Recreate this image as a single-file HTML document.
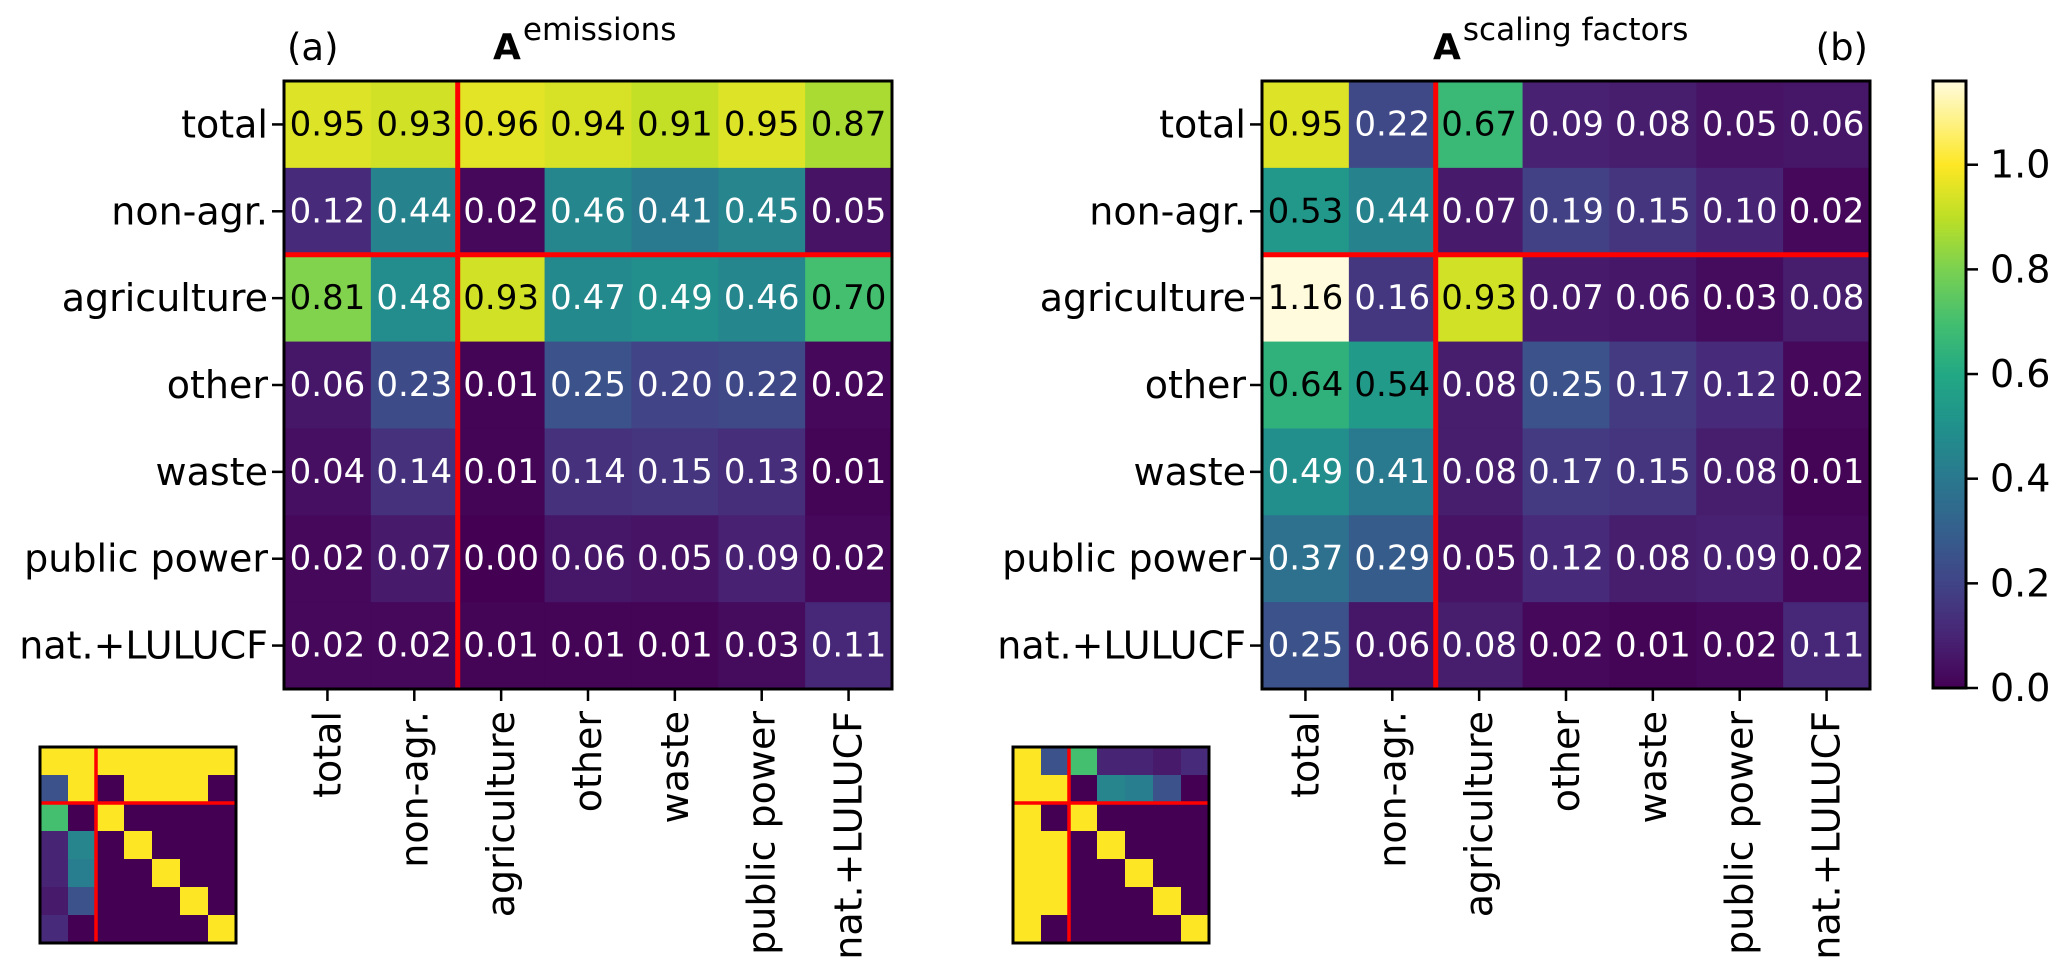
<!DOCTYPE html>
<html><head><meta charset="utf-8">
<style>
html,body{margin:0;padding:0;background:#fff;}
svg{display:block;font-family:"DejaVu Sans","Liberation Sans",sans-serif;}
</style></head>
<body>
<svg id="fig" width="2067" height="974" viewBox="0 0 2067 974" xmlns="http://www.w3.org/2000/svg">
<rect x="0" y="0" width="2067" height="974" fill="#fff"/>
<text x="287" y="60" font-size="37">(a)</text>
<text x="493" y="59" font-size="36"><tspan font-weight="bold">A</tspan><tspan font-size="31" dy="-19" dx="2">emissions</tspan></text>
<text x="1868" y="60" font-size="37" text-anchor="end">(b)</text>
<text x="1433" y="59" font-size="36"><tspan font-weight="bold">A</tspan><tspan font-size="31" dy="-19" dx="2">scaling factors</tspan></text>
<g id="layer"></g>
</svg>
<script>
const categories = ["total","non-agr.","agriculture","other","waste","public power","nat.+LULUCF"];
const emissions = [
 [0.95,0.93,0.96,0.94,0.91,0.95,0.87],
 [0.12,0.44,0.02,0.46,0.41,0.45,0.05],
 [0.81,0.48,0.93,0.47,0.49,0.46,0.70],
 [0.06,0.23,0.01,0.25,0.20,0.22,0.02],
 [0.04,0.14,0.01,0.14,0.15,0.13,0.01],
 [0.02,0.07,0.00,0.06,0.05,0.09,0.02],
 [0.02,0.02,0.01,0.01,0.01,0.03,0.11]
];
const scalingFactors = [
 [0.95,0.22,0.67,0.09,0.08,0.05,0.06],
 [0.53,0.44,0.07,0.19,0.15,0.10,0.02],
 [1.16,0.16,0.93,0.07,0.06,0.03,0.08],
 [0.64,0.54,0.08,0.25,0.17,0.12,0.02],
 [0.49,0.41,0.08,0.17,0.15,0.08,0.01],
 [0.37,0.29,0.05,0.12,0.08,0.09,0.02],
 [0.25,0.06,0.08,0.02,0.01,0.02,0.11]
];
const insetA = [
 [1,1,1,1,1,1,1],
 [0.25,1,0,1,1,1,0],
 [0.7,0,1,0,0,0,0],
 [0.1,0.45,0,1,0,0,0],
 [0.1,0.42,0,0,1,0,0],
 [0.07,0.25,0,0,0,1,0],
 [0.12,0,0,0,0,0,1]
];
const insetB = [
 [1,0.25,0.7,0.1,0.1,0.07,0.12],
 [1,1,0,0.45,0.42,0.25,0],
 [1,0,1,0,0,0,0],
 [1,1,0,1,0,0,0],
 [1,1,0,0,1,0,0],
 [1,1,0,0,0,1,0],
 [1,0,0,0,0,0,1]
];
const cbarTicks = [0.0,0.2,0.4,0.6,0.8,1.0];
const cbarMax = 1.16;

const VIR = ["#440154","#482475","#414487","#355f8d","#2a788e","#21918c","#22a884","#44bf70","#7ad151","#bddf26","#fde725"];
function hex(h){return [parseInt(h.substr(1,2),16),parseInt(h.substr(3,2),16),parseInt(h.substr(5,2),16)];}
function mix(a,b,t){return a.map((v,i)=>Math.round(v+(b[i]-v)*t));}
function color(v){
  let c;
  if(v>=1){const t=Math.min(1,(v-1)/(cbarMax-1));c=mix(hex("#fde725"),hex("#fffbdc"),t);}
  else{v=Math.max(0,v);const p=v*10;const i=Math.min(9,Math.floor(p));c=mix(hex(VIR[i]),hex(VIR[i+1]),p-i);}
  return "rgb("+c.join(",")+")";
}
const NS="http://www.w3.org/2000/svg";
const layer=document.getElementById("layer");
function el(tag,attrs,parent){const e=document.createElementNS(NS,tag);for(const k in attrs)e.setAttribute(k,attrs[k]);(parent||layer).appendChild(e);return e;}

function heatmap(x0,y0,size,data,prefix){
  const n=categories.length, cs=size/n;
  const g=el("g",{});
  
  
  const xs=i=>x0+i*cs, ys=j=>y0+j*cs;
  data.forEach((row,j)=>row.forEach((v,i)=>{
    const r=el("rect",{x:xs(i),y:ys(j),width:cs+0.5,height:cs+0.5,fill:color(v)},g);
    
    
    const t=el("text",{x:xs(i)+cs/2,y:ys(j)+cs/2,"font-size":34,"text-anchor":"middle","dominant-baseline":"central",fill:v>0.5?"#000":"#fff"},g);
    t.textContent=v.toFixed(2);
    
    
  }));
  el("line",{x1:xs(2),y1:y0,x2:xs(2),y2:y0+size,stroke:"#ff0000","stroke-width":5},g);
  el("line",{x1:x0,y1:ys(2),x2:x0+size,y2:ys(2),stroke:"#ff0000","stroke-width":5},g);
  el("rect",{x:x0,y:y0,width:size,height:size,fill:"none",stroke:"#000","stroke-width":3},g);
  categories.forEach((c,j)=>{
    const yy=ys(j)+cs/2;
    el("line",{x1:x0-12,y1:yy,x2:x0,y2:yy,stroke:"#000","stroke-width":2.5},g);
    const t=el("text",{x:x0-16,y:yy,"font-size":38,"text-anchor":"end","dominant-baseline":"central"},g);
    t.textContent=c;
    
    
  });
  categories.forEach((c,i)=>{
    const cx=xs(i)+cs/2;
    el("line",{x1:cx,y1:y0+size,x2:cx,y2:y0+size+12,stroke:"#000","stroke-width":2.5},g);
    const t=el("text",{x:0,y:0,"font-size":38,"text-anchor":"end","dominant-baseline":"central",transform:"translate("+cx+","+(y0+size+22)+") rotate(-90)"},g);
    t.textContent=c;
    
    
  });
}
function inset(x0,y0,size,data,prefix){
  const n=data.length, cs=size/n;
  const g=el("g",{});
  
  
  data.forEach((row,j)=>row.forEach((v,i)=>{
    const r=el("rect",{x:x0+i*cs,y:y0+j*cs,width:cs+0.5,height:cs+0.5,fill:color(v)},g);
    
    
  }));
  el("line",{x1:x0+2*cs,y1:y0,x2:x0+2*cs,y2:y0+size,stroke:"#ff0000","stroke-width":3.5},g);
  el("line",{x1:x0,y1:y0+2*cs,x2:x0+size,y2:y0+2*cs,stroke:"#ff0000","stroke-width":3.5},g);
  el("rect",{x:x0,y:y0,width:size,height:size,fill:"none",stroke:"#000","stroke-width":3},g);
}
heatmap(284,81,608,emissions,"emissions");
heatmap(1262,81,608,scalingFactors,"scaling");
inset(40,747,196,insetA,"emissions");
inset(1013,747,196,insetB,"scaling");

// colorbar
const cb=el("g",{});


const cbX=1933,cbW=33,cbTop=81,cbBot=688;
const cby=v=>cbBot-(v/cbarMax)*(cbBot-cbTop);
const steps=300;
for(let k=0;k<steps;k++){
  const v0=k/steps*cbarMax, v1=(k+1)/steps*cbarMax;
  el("rect",{x:cbX,y:cby(v1),width:cbW,height:cby(v0)-cby(v1)+0.6,fill:color((v0+v1)/2)},cb);
}
el("rect",{x:cbX,y:cbTop,width:cbW,height:cbBot-cbTop,fill:"none",stroke:"#000","stroke-width":3},cb);
cbarTicks.forEach(v=>{
  el("line",{x1:cbX+cbW,y1:cby(v),x2:cbX+cbW+12,y2:cby(v),stroke:"#000","stroke-width":2.5},cb);
  const t=el("text",{x:cbX+cbW+24,y:cby(v),"font-size":38,"dominant-baseline":"central"},cb);
  t.textContent=v.toFixed(1);
  
  
});
</script>
</body></html>
